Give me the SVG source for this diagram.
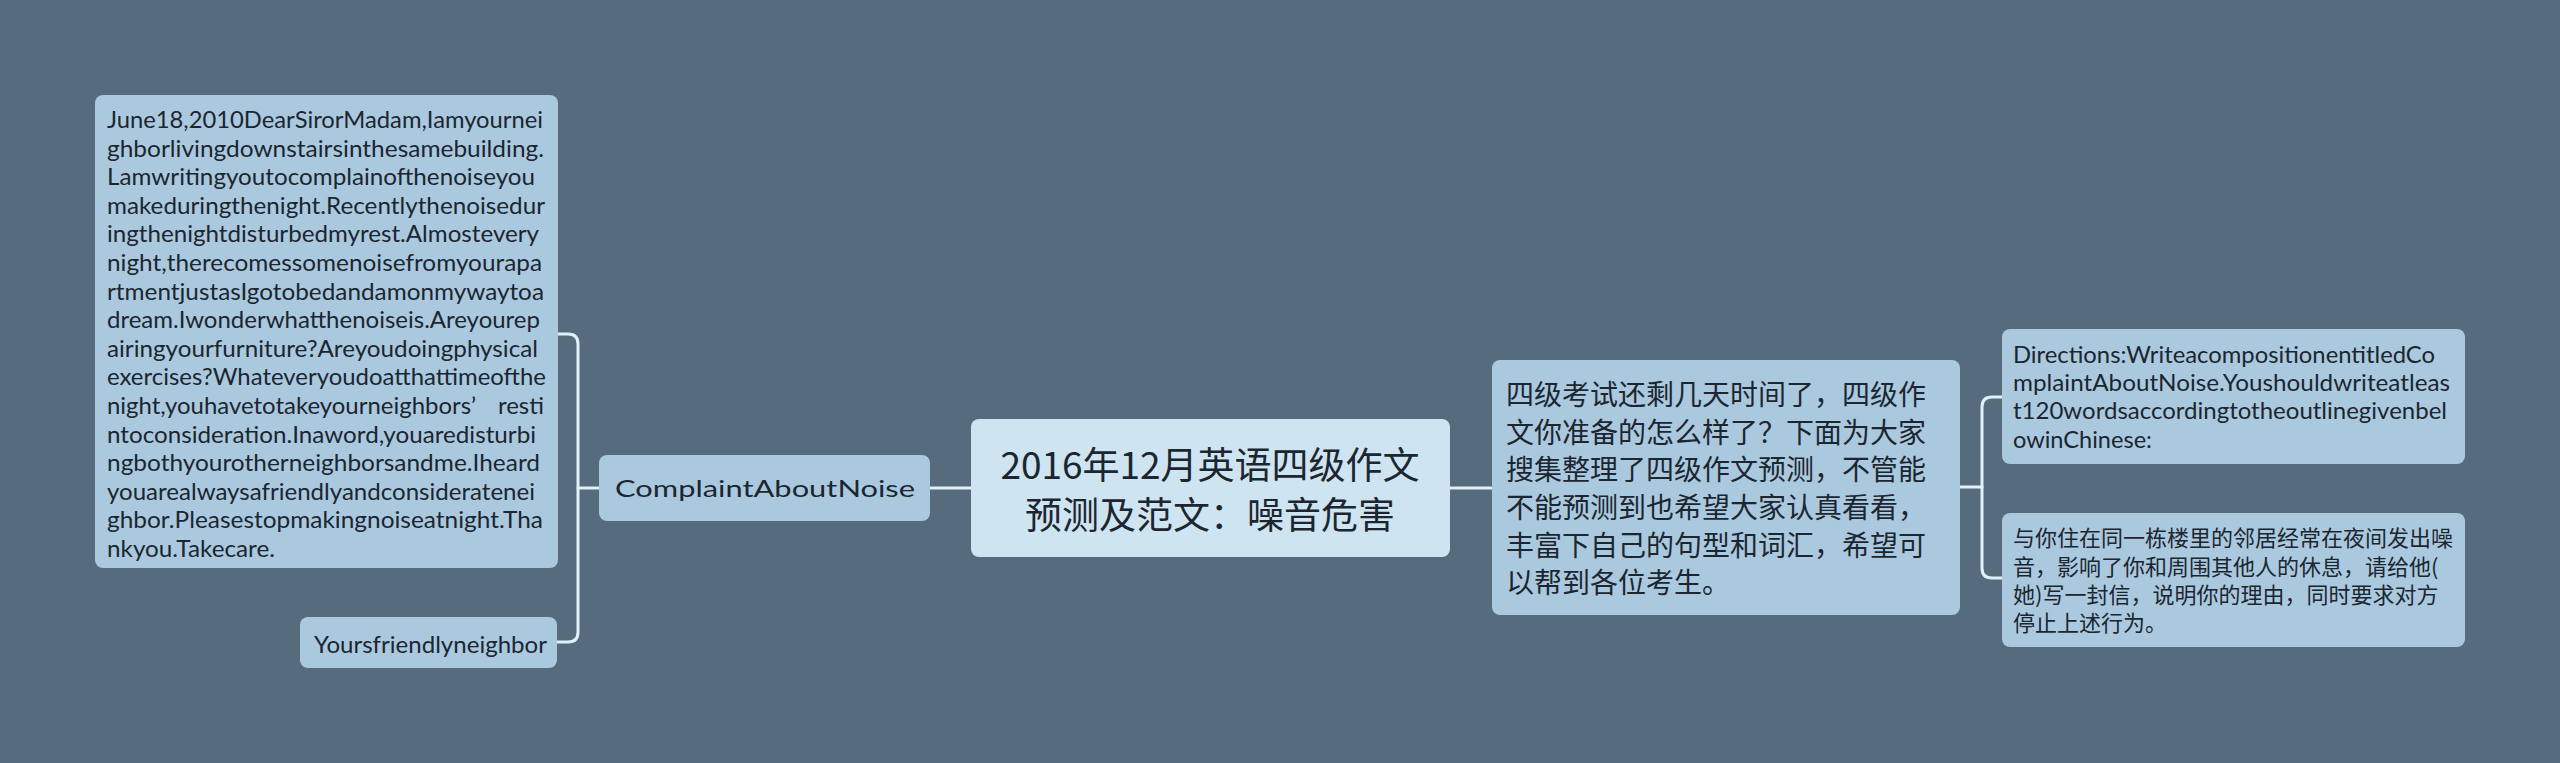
<svg xmlns="http://www.w3.org/2000/svg" width="2560" height="763" viewBox="0 0 2560 763">
<style>
.bg{fill:#566b7b}
.node{fill:#aac9df}
.root{fill:#cee4f0}
.conn{fill:none;stroke:#dff1fa;stroke-width:3;stroke-linecap:round}
.lt{font-family:Lato,"Noto Sans",sans-serif;font-size:24px;fill:#1c2630}
.cn{font-family:"Noto Sans CJK SC","Noto Sans",sans-serif;fill:#1c2630}
</style>
<rect class="bg" x="0" y="0" width="2560" height="763"/>
<g id="connectors">
<path class="conn" d="M599,488 H578"/>
<path class="conn" d="M558,334 H568 Q578,334 578,344 V632 Q578,642 568,642 H557"/>
<path class="conn" d="M930,488 H971"/>
<path class="conn" d="M1450,488 H1491"/>
<path class="conn" d="M1960,487 H1982"/>
<path class="conn" d="M2002,397 H1992 Q1982,397 1982,407 V568 Q1982,578 1992,578 H2002"/>
</g>
<g id="root">
<rect class="root" x="971" y="419" width="479" height="138" rx="8"/>
<text class="cn" font-size="37" text-anchor="middle" x="1210" y="479">2016年12月英语四级作文</text>
<text class="cn" font-size="37" text-anchor="middle" x="1210" y="529">预测及范文：噪音危害</text>
</g>
<g id="complaint">
<rect class="node" x="599" y="455" width="331" height="66" rx="8"/>
<text class="lt" font-size="29" x="615" y="497" textLength="300" lengthAdjust="spacingAndGlyphs">ComplaintAboutNoise</text>
</g>
<g id="letter">
<rect class="node" x="95" y="95" width="463" height="473" rx="8"/>
<text class="lt" x="107" y="128" textLength="436" lengthAdjust="spacingAndGlyphs">June18,2010DearSirorMadam,Iamyournei</text>
<text class="lt" x="107" y="156.6" textLength="437" lengthAdjust="spacingAndGlyphs">ghborlivingdownstairsinthesamebuilding.</text>
<text class="lt" x="107" y="185.2" textLength="428" lengthAdjust="spacingAndGlyphs">Lamwritingyoutocomplainofthenoiseyou</text>
<text class="lt" x="107" y="213.8" textLength="438" lengthAdjust="spacingAndGlyphs">makeduringthenight.Recentlythenoisedur</text>
<text class="lt" x="107" y="242.4" textLength="432" lengthAdjust="spacingAndGlyphs">ingthenightdisturbedmyrest.Almostevery</text>
<text class="lt" x="107" y="271" textLength="435" lengthAdjust="spacingAndGlyphs">night,therecomessomenoisefromyourapa</text>
<text class="lt" x="107" y="299.6" textLength="437" lengthAdjust="spacingAndGlyphs">rtmentjustasIgotobedandamonmywaytoa</text>
<text class="lt" x="107" y="328.2" textLength="433" lengthAdjust="spacingAndGlyphs">dream.Iwonderwhatthenoiseis.Areyourep</text>
<text class="lt" x="107" y="356.8" textLength="431" lengthAdjust="spacingAndGlyphs">airingyourfurniture?Areyoudoingphysical</text>
<text class="lt" x="107" y="385.4" textLength="439" lengthAdjust="spacingAndGlyphs">exercises?Whateveryoudoatthattimeofthe</text>
<text class="lt" x="107" y="414" textLength="437" lengthAdjust="spacingAndGlyphs">night,youhavetotakeyourneighbors’<tspan dx="22">resti</tspan></text>
<text class="lt" x="107" y="442.6" textLength="429" lengthAdjust="spacingAndGlyphs">ntoconsideration.Inaword,youaredisturbi</text>
<text class="lt" x="107" y="471.2" textLength="433" lengthAdjust="spacingAndGlyphs">ngbothyourotherneighborsandme.Iheard</text>
<text class="lt" x="107" y="499.8" textLength="428" lengthAdjust="spacingAndGlyphs">youarealwaysafriendlyandconsideratenei</text>
<text class="lt" x="107" y="528.4" textLength="436" lengthAdjust="spacingAndGlyphs">ghbor.Pleasestopmakingnoiseatnight.Tha</text>
<text class="lt" x="107" y="557" textLength="168" lengthAdjust="spacingAndGlyphs">nkyou.Takecare.</text>
</g>
<g id="signature">
<rect class="node" x="300" y="617" width="257" height="51" rx="8"/>
<text class="lt" x="314" y="653" textLength="233" lengthAdjust="spacingAndGlyphs">Yoursfriendlyneighbor</text>
</g>
<g id="intro">
<rect class="node" x="1492" y="360" width="468" height="255" rx="8"/>
<text class="cn" font-size="28" x="1506" y="405">四级考试还剩几天时间了，四级作</text>
<text class="cn" font-size="28" x="1506" y="443">文你准备的怎么样了？下面为大家</text>
<text class="cn" font-size="28" x="1506" y="480">搜集整理了四级作文预测，不管能</text>
<text class="cn" font-size="28" x="1506" y="518">不能预测到也希望大家认真看看，</text>
<text class="cn" font-size="28" x="1506" y="556">丰富下自己的句型和词汇，希望可</text>
<text class="cn" font-size="28" x="1506" y="593">以帮到各位考生。</text>
</g>
<g id="directions">
<rect class="node" x="2002" y="329" width="463" height="135" rx="8"/>
<text class="lt" x="2013" y="363" textLength="422" lengthAdjust="spacingAndGlyphs">Directions:WriteacompositionentitledCo</text>
<text class="lt" x="2013" y="391" textLength="437" lengthAdjust="spacingAndGlyphs">mplaintAboutNoise.Youshouldwriteatleas</text>
<text class="lt" x="2013" y="419" textLength="434" lengthAdjust="spacingAndGlyphs">t120wordsaccordingtotheoutlinegivenbel</text>
<text class="lt" x="2013" y="448" textLength="139" lengthAdjust="spacingAndGlyphs">owinChinese:</text>
</g>
<g id="task">
<rect class="node" x="2002" y="513" width="463" height="134" rx="8"/>
<text class="cn" font-size="22" x="2013" y="546">与你住在同一栋楼里的邻居经常在夜间发出噪</text>
<text class="cn" font-size="22" x="2013" y="575">音，影响了你和周围其他人的休息，请给他(</text>
<text class="cn" font-size="22" x="2013" y="603">她)写一封信，说明你的理由，同时要求对方</text>
<text class="cn" font-size="22" x="2013" y="631">停止上述行为。</text>
</g>
</svg>
